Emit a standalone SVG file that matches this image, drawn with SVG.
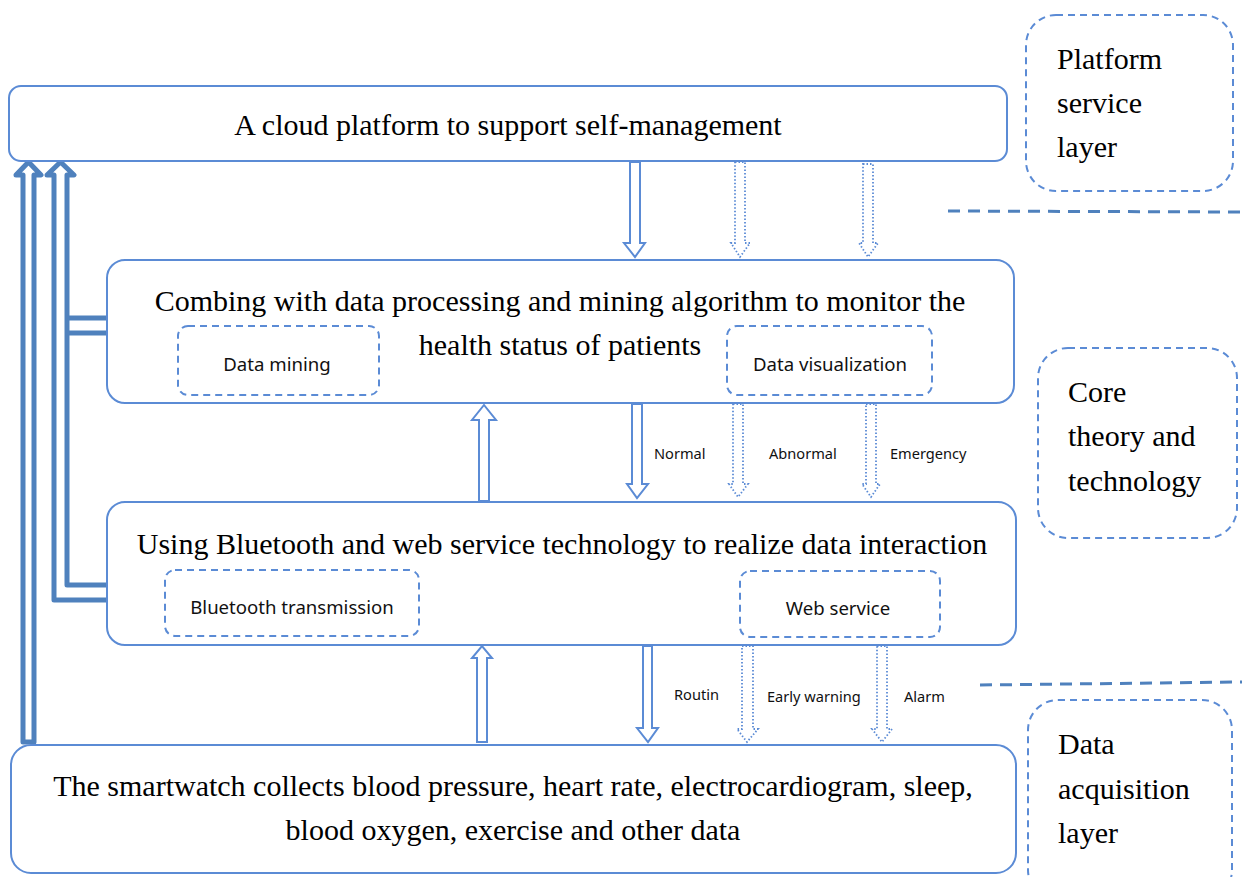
<svg xmlns="http://www.w3.org/2000/svg" width="1242" height="877" viewBox="0 0 1242 877">
<style>
.box{fill:#fff;stroke:#5b8bd5;stroke-width:2}
.dbox{fill:none;stroke:#5b8bd5;stroke-width:2;stroke-dasharray:7 5}
.main{font-family:"Liberation Serif","Times New Roman",serif;font-size:30px;fill:#000}
.side{font-family:"Liberation Serif","Times New Roman",serif;font-size:30px;fill:#000}
.small{font-family:"Noto Sans","Open Sans",sans-serif;font-size:18.6px;fill:#111}
.lbl{font-family:"Noto Sans","Open Sans",sans-serif;font-size:14.6px;fill:#111}
.pipe{fill:none;stroke:#4f81bd;stroke-width:5;stroke-linejoin:round}
.harrow{fill:#fff;stroke:#5b8bd5;stroke-width:2}
.darrow{fill:#fff;stroke:#5b8bd5;stroke-width:1.8;stroke-dasharray:1.5 2}
.sep{stroke:#4f81bd;stroke-width:3;stroke-dasharray:12 8;fill:none}
</style>
<rect width="1242" height="877" fill="#fff"/>

<g id="connectors">
  <path class="pipe" d="M23 742 L23 175 L16 175 L28.5 162 L41 175 L34 175 L34 742 Z"/>
  <path class="pipe" d="M107 600 L54 600 L54 175 L47 175 L60.5 162 L74 175 L67 175 L67 585 L107 585"/>
  <path class="pipe" d="M67 318 L107 318 M67 333 L107 333"/>
  <polygon class="harrow" points="630,162 640,162 640,243 645,243 635,257 624,243 630,243"/>
  <polygon class="darrow" points="735,162 745,162 745,243 750,243 740,257 731,243 735,243"/>
  <polygon class="darrow" points="863,164 873,164 873,243 878,243 868,257 859,243 863,243"/>
  <polygon class="harrow" points="632,404 642,404 642,484 648,484 637,498 627,484 632,484"/>
  <polygon class="darrow" points="733,404 743,404 743,484 748,484 738,497 729,484 733,484"/>
  <polygon class="darrow" points="866,404 876,404 876,484 880,484 871,497 862,484 866,484"/>
  <polygon class="harrow" points="479,501 489,501 489,420 496,420 484,405 472,420 479,420"/>
  <polygon class="harrow" points="477,742 487,742 487,658 492,658 482,646 472,658 477,658"/>
  <polygon class="harrow" points="643,646 652,646 652,728 658,728 648,742 637,728 643,728"/>
  <polygon class="darrow" points="742,646 753,646 753,729 758,729 747,742 737,729 742,729"/>
  <polygon class="darrow" points="877,646 887,646 887,729 892,729 882,742 872,729 877,729"/>
  <text class="lbl" x="654" y="459">Normal</text>
  <text class="lbl" x="769" y="459">Abnormal</text>
  <text class="lbl" x="890" y="459">Emergency</text>
  <text class="lbl" x="674" y="700">Routin</text>
  <text class="lbl" x="767" y="702">Early warning</text>
  <text class="lbl" x="904" y="702">Alarm</text>
  <line class="sep" x1="948" y1="211" x2="1242" y2="212"/>
  <line class="sep" x1="980" y1="685" x2="1242" y2="682"/>
</g>

<g id="node-cloud">
  <rect class="box" x="9" y="86" width="998" height="75" rx="12"/>
  <text class="main" x="508" y="135" text-anchor="middle">A cloud platform to support self-management</text>
</g>

<g id="node-mining">
  <rect class="box" x="107" y="260" width="907" height="143" rx="18"/>
  <text class="main" x="560" y="311" text-anchor="middle">Combing with data processing and mining algorithm to monitor the</text>
  <text class="main" x="560" y="355" text-anchor="middle">health status of patients</text>
</g>
<g id="node-data-mining">
  <rect class="dbox" x="178" y="326" width="201" height="69" rx="10"/>
  <text class="small" x="277" y="371" text-anchor="middle">Data mining</text>
</g>
<g id="node-data-vis">
  <rect class="dbox" x="727" y="326" width="205" height="69" rx="10"/>
  <text class="small" x="830" y="371" text-anchor="middle">Data visualization</text>
</g>

<g id="node-bluetooth">
  <rect class="box" x="107" y="502" width="909" height="143" rx="18"/>
  <text class="main" x="562" y="554" text-anchor="middle">Using Bluetooth and web service technology to realize data interaction</text>
</g>
<g id="node-bt-trans">
  <rect class="dbox" x="165" y="570" width="254" height="66" rx="10"/>
  <text class="small" x="292" y="614" text-anchor="middle">Bluetooth transmission</text>
</g>
<g id="node-web">
  <rect class="dbox" x="740" y="571" width="200" height="66" rx="10"/>
  <text class="small" x="838" y="615" text-anchor="middle">Web service</text>
</g>

<g id="node-smartwatch">
  <rect class="box" x="11" y="745" width="1005" height="128" rx="20"/>
  <text class="main" x="513" y="796" text-anchor="middle">The smartwatch collects blood pressure, heart rate, electrocardiogram, sleep,</text>
  <text class="main" x="513" y="840" text-anchor="middle">blood oxygen, exercise and other data</text>
</g>

<g id="layer-platform">
  <rect class="dbox" x="1026" y="15" width="207" height="176" rx="30"/>
  <text class="side" x="1057" y="69">Platform</text>
  <text class="side" x="1057" y="113">service</text>
  <text class="side" x="1057" y="157">layer</text>
</g>
<g id="layer-core">
  <rect class="dbox" x="1038" y="348" width="199" height="190" rx="30"/>
  <text class="side" x="1068" y="402">Core</text>
  <text class="side" x="1068" y="446">theory and</text>
  <text class="side" x="1068" y="491">technology</text>
</g>
<g id="layer-acq">
  <rect class="dbox" x="1028" y="700" width="204" height="200" rx="30"/>
  <text class="side" x="1058" y="754">Data</text>
  <text class="side" x="1058" y="799">acquisition</text>
  <text class="side" x="1058" y="843">layer</text>
</g>
</svg>
